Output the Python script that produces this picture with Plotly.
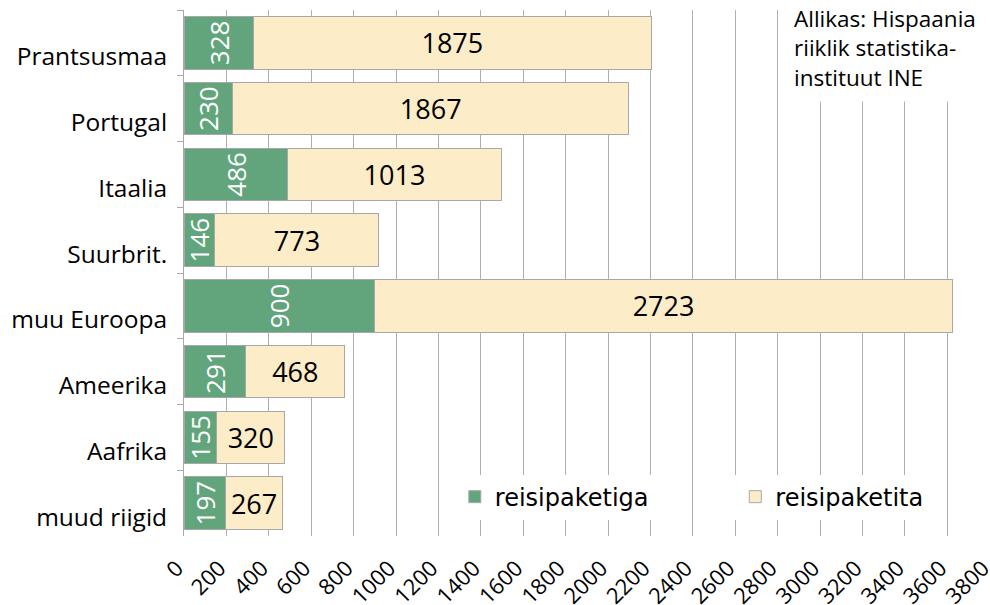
import plotly.graph_objects as go

categories = ["Prantsusmaa", "Portugal", "Itaalia", "Suurbrit.", "muu Euroopa",
              "Ameerika", "Aafrika", "muud riigid"]
with_package = [328, 230, 486, 146, 900, 291, 155, 197]
without_package = [1875, 1867, 1013, 773, 2723, 468, 320, 267]
series_names = ["reisipaketiga", "reisipaketita"]
x_ticks = list(range(0, 3801, 200))
source_text = "Allikas: Hispaania<br>riiklik statistika-<br>instituut INE"

FONT = "Open Sans"
fig = go.Figure()
fig.add_trace(go.Bar(
    y=categories, x=with_package, orientation="h", name=series_names[0],
    marker=dict(color="#62a57d", line=dict(color="#a8a8a8", width=1)),
    text=with_package, textposition="inside", insidetextanchor="middle",
    textangle=-90, constraintext="none", legend="legend",
    textfont=dict(family=FONT, size=26, color="white"),
))
fig.add_trace(go.Bar(
    y=categories, x=without_package, orientation="h", name=series_names[1],
    marker=dict(color="#fcecc7", line=dict(color="#a8a8a8", width=1)),
    text=without_package, textposition="inside", insidetextanchor="middle",
    textangle=0, constraintext="none", legend="legend2",
    textfont=dict(family=FONT, size=27, color="black"),
))

legend_font = dict(family="DejaVu Sans", size=24, color="black")
fig.update_layout(
    width=990, height=605,
    barmode="stack", bargap=0.2,
    margin=dict(l=184, r=0, t=10, b=69),
    paper_bgcolor="white", plot_bgcolor="white",
    font=dict(family=FONT, size=24, color="black"),
    legend=dict(orientation="h", x=0.336, y=0.074, xanchor="left", yanchor="middle",
                bgcolor="white", font=legend_font),
    legend2=dict(orientation="h", x=0.684, y=0.074, xanchor="left", yanchor="middle",
                 bgcolor="white", font=legend_font),
    xaxis=dict(range=[0, 3801], tickvals=x_ticks, tickangle=-45, automargin=False,
               showgrid=True, gridcolor="#b0b0b0", gridwidth=1,
               zeroline=False, showline=False, ticks="", ticklabelstandoff=14,
               ticklabeloverflow="allow", ticklabelshift=-7,
               tickfont=dict(family=FONT, size=22, color="black")),
    yaxis=dict(autorange="reversed", showline=True, linecolor="#a8a8a8", linewidth=1,
               ticks="outside", tickson="boundaries", ticklen=6, tickcolor="#a8a8a8",
               showgrid=False, ticklabelstandoff=11, automargin=False,
               ticklabelshift=-14,
               tickfont=dict(family=FONT, size=24.5, color="black")),
    showlegend=True,
)
fig.add_annotation(
    xref="paper", yref="paper", x=1, y=1.019, xanchor="right", yanchor="top",
    xshift=-5, yshift=6,
    text=source_text, showarrow=False, align="left", bgcolor="white",
    borderpad=8, font=dict(family=FONT, size=22.5, color="black"),
)
fig.write_html("out.html", post_script="document.body.style.margin='0';",
               config={"displayModeBar": False})
